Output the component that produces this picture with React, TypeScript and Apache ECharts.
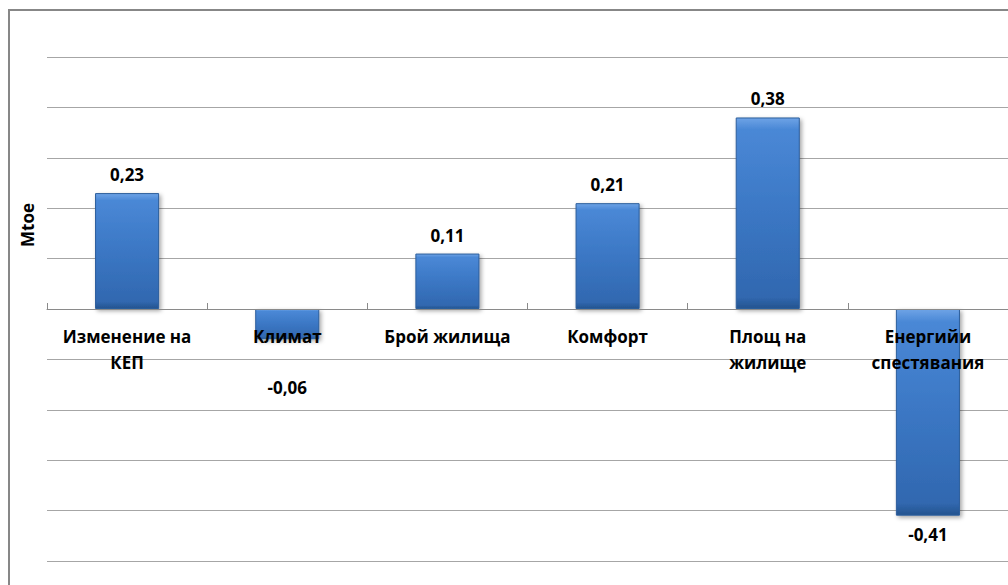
import React, { useEffect, useRef } from "react";
import * as echarts from "echarts";

const categories = [
  "Изменение на\nКЕП",
  "Климат",
  "Брой жилища",
  "Комфорт",
  "Площ на\nжилище",
  "Енергийи\nспестявания",
];
const values = [0.23, -0.06, 0.11, 0.21, 0.38, -0.41];
const labelOffsets = [0, 30, 0, 0, 0, 0];
const yAxisName = "Mtoe";

const FONT = "'Open Sans', 'Noto Sans', sans-serif";

export default function App() {
  const ref = useRef<HTMLDivElement>(null);
  useEffect(() => {
    if (!ref.current) return;
    const chart = echarts.init(ref.current, null, { renderer: "svg" });
    const barGradient = new echarts.graphic.LinearGradient(0, 0, 0, 1, [
      { offset: 0, color: "#6ea3e6" },
      { offset: 0.06, color: "#4a88d6" },
      { offset: 0.5, color: "#3b77c4" },
      { offset: 0.94, color: "#3168b0" },
      { offset: 1, color: "#25548f" },
    ]);
    const gridTop = 57;
    const gridBottom = 24;
    const plotH = 585 - gridTop - gridBottom;
    const zeroShift = -plotH / 2;
    chart.setOption({
      animation: false,
      backgroundColor: "#ffffff",
      grid: {
        left: 47,
        right: 0,
        top: gridTop,
        bottom: gridBottom,
        containLabel: false,
        outerBoundsMode: "none",
      },
      graphic: [
        {
          type: "rect",
          shape: { x: 9, y: 10, width: 1200, height: 800 },
          style: { fill: "none", stroke: "#878787", lineWidth: 2 },
          silent: true,
          z: 0,
        },
        {
          type: "text",
          x: 27,
          y: 225,
          rotation: Math.PI / 2,
          style: {
            text: yAxisName,
            font: `bold 17px ${FONT}`,
            fill: "#000",
            textAlign: "center",
            textVerticalAlign: "middle",
          },
        },
      ],
      xAxis: {
        type: "category",
        data: categories,
        position: "bottom",
        offset: zeroShift,
        axisLine: { onZero: false, lineStyle: { color: "#8a8a8a", width: 1 } },
        axisTick: { show: true, inside: true, length: 6, lineStyle: { color: "#8a8a8a" } },
        axisLabel: {
          interval: 0,
          margin: 14,
          color: "#000",
          fontFamily: FONT,
          fontWeight: "bold",
          fontSize: 17,
          lineHeight: 26,
          verticalAlign: "top",
        },
        z: 10,
      },
      yAxis: {
        type: "value",
        min: -0.5,
        max: 0.5,
        interval: 0.1,
        axisLabel: { show: false },
        axisLine: { show: false },
        axisTick: { show: false },
        splitLine: { lineStyle: { color: "#a6a6a6", width: 1 } },
      },
      series: [
        {
          type: "bar",
          barWidth: "40%",
          z: 2,
          data: values.map((v, i) => ({
            value: v,
            label: {
              position: v >= 0 ? "top" : "bottom",
              offset: [0, labelOffsets[i]],
            },
          })),
          itemStyle: {
            color: barGradient,
            borderColor: "#2c5e9c",
            borderWidth: 1,
            shadowBlur: 4,
            shadowOffsetX: 2,
            shadowOffsetY: 2,
            shadowColor: "rgba(0,0,0,0.35)",
          },
          label: {
            show: true,
            distance: 10,
            color: "#000",
            fontFamily: FONT,
            fontWeight: "bold",
            fontSize: 17,
            formatter: (p: any) => String(p.value).replace(".", ","),
          },
        },
      ],
    });
    return () => chart.dispose();
  }, []);
  return (
    <div
      ref={ref}
      style={{ position: "fixed", left: 0, top: 0, width: 1008, height: 585 }}
    />
  );
}
